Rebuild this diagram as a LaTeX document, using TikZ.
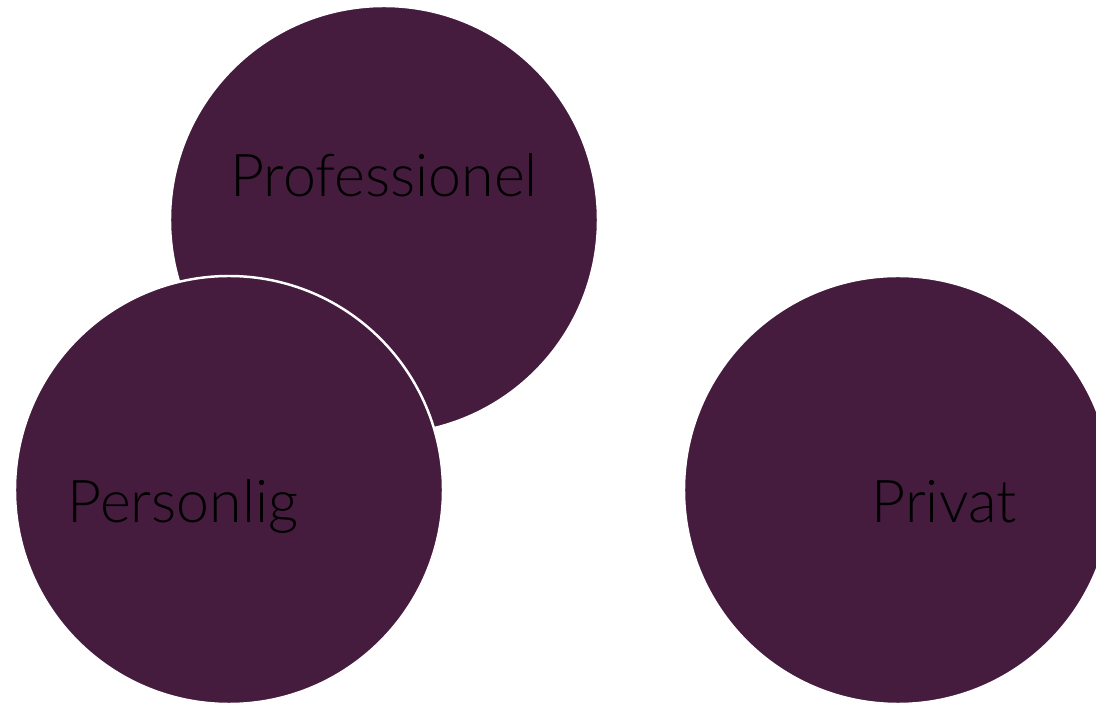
\documentclass[tikz,border=0pt]{standalone}
\usepackage{fontspec}
\setmainfont{Lato Light}
\usetikzlibrary{positioning}
\definecolor{plum}{HTML}{451C3E}

\begin{document}
\begin{tikzpicture}[
	disc/.style={circle,fill=plum,draw=white,line width=0.7pt,minimum size=4.28cm,inner sep=0pt},
	word/.style={text=black,anchor=base,font=\fontsize{16.8}{19}\selectfont}]
\clip (0,0) rectangle (10.96,7.04);
\node[disc] (prof) at (3.84,4.84) {};
\node[disc] (pers) at (2.29,2.14) {};
\node[disc] (priv) at (8.98,2.14) {};
\node[word] (proftext) at (3.84,5.07) {Professionel};
\node[word] (perstext) at (1.83,1.81) {Personlig};
\node[word] (privtext) at (9.44,1.81) {Privat};
\end{tikzpicture}
\end{document}
